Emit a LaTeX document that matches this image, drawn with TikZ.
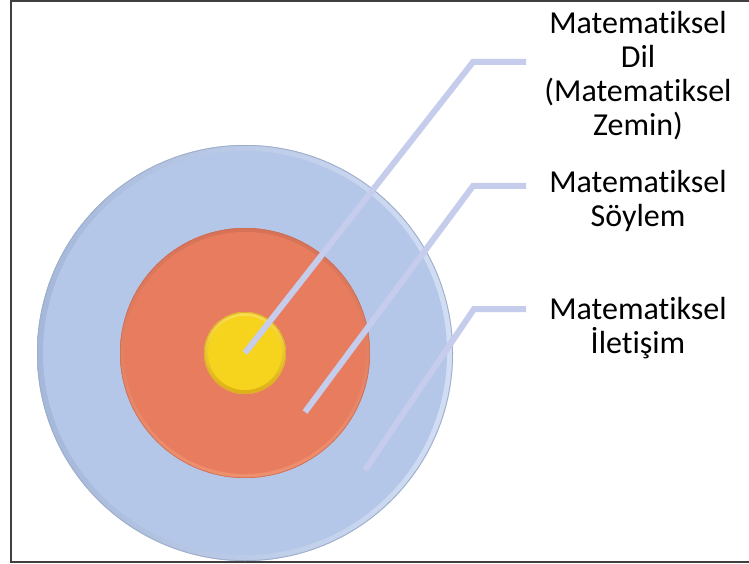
\documentclass[tikz,border=0pt]{standalone}
\usepackage{fontspec}
\setmainfont{Carlito}[Ligatures={NoCommon,NoRare,NoContextual}]
\definecolor{blueF}{HTML}{B4C7E8}
\definecolor{blueD}{HTML}{A5B8DA}
\definecolor{blueL}{HTML}{D2DEF4}
\definecolor{blueE}{HTML}{9EADC8}
\definecolor{orgF}{HTML}{E77D5E}
\definecolor{orgD}{HTML}{D77258}
\definecolor{orgL}{HTML}{EE9070}
\definecolor{orgE}{HTML}{C8705A}
\definecolor{ylwF}{HTML}{F6D31D}
\definecolor{ylwD}{HTML}{DDB014}
\definecolor{ylwL}{HTML}{F8DE50}
\definecolor{ylwE}{HTML}{E0AE2A}
\definecolor{lineC}{HTML}{C6CCEB}
\definecolor{frameC}{HTML}{404040}
\tikzset{
  lbl/.style={align=center, font=\fontsize{32}{34}\selectfont, anchor=base, inner sep=0pt},
  leader/.style={draw=lineC, line width=6pt, line cap=butt, line join=miter},
}
\begin{document}
\begin{tikzpicture}[x=1pt,y=-1pt]
\useasboundingbox (0,0) rectangle (749,564);
\fill[white] (0,0) rectangle (749,564);
\draw[frameC, line width=2pt] (760,1) -- (11,1) -- (11,562) -- (760,562);
\coordinate (c) at (245,353);
% outer blue disc
\fill[blueF] (c) circle[radius=208pt];
\shade[even odd rule, left color=blueD, right color=blueL] (c) circle[radius=208pt] (c) circle[radius=200pt];
\fill[blueF] (c) circle[radius=202pt];
\draw[blueE, line width=0.8pt] (c) circle[radius=207.6pt];
% orange disc
\fill[orgF] (c) circle[radius=125pt];
\shade[even odd rule, top color=orgD, bottom color=orgL] (c) circle[radius=125pt] (c) circle[radius=119pt];
\fill[orgF] (c) circle[radius=121pt];
\draw[orgE, line width=0.6pt] (c) circle[radius=124.7pt];
% yellow disc
\fill[ylwF] (c) circle[radius=41pt];
\shade[even odd rule, top color=ylwL, bottom color=ylwD] (c) circle[radius=41pt] (c) circle[radius=35pt];
\fill[ylwF] (c) circle[radius=37pt];
\draw[ylwE, line width=1pt] (c) circle[radius=40.5pt];
% leader lines
\coordinate (s1) at (245,353); \coordinate (b1) at (473,62);  \coordinate (e1) at (526,62);
\coordinate (s2) at (305,412); \coordinate (b2) at (473,186); \coordinate (e2) at (526,186);
\coordinate (s3) at (365,470); \coordinate (b3) at (474,309); \coordinate (e3) at (526,309);
\draw[leader] (s1) -- (b1) -- (e1);
\draw[leader] (s2) -- (b2) -- (e2);
\draw[leader] (s3) -- (b3) -- (e3);
% labels (base anchor = baseline of the last line)
\node[lbl] (t1) at (638,136) {Matematiksel\\Dil\\(Matematiksel\\Zemin)};
\node[lbl] (t2) at (638,226) {Matematiksel\\Söylem};
\node[lbl] (t3) at (638,353) {Matematiksel\\İletişim};
\end{tikzpicture}
\end{document}
